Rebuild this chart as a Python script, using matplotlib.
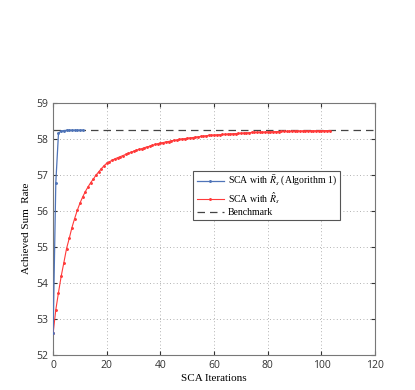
import numpy as np
import matplotlib
matplotlib.use('Agg')
import matplotlib.pyplot as plt

plt.rcParams['mathtext.fontset'] = 'stix'
plt.rcParams['font.family'] = ['Liberation Serif', 'DejaVu Serif']

# blue curve: SCA with R-bar (Algorithm 1)
iters_alg1 = list(range(0, 12))
rate_alg1 = [52.60, 56.78, 58.15, 58.21, 58.225, 58.23, 58.232, 58.233,
             58.234, 58.234, 58.235, 58.235]

# red curve: SCA with R-hat
iters_hat = list(range(0, 104))
rate_hat = [
    52.60, 53.25, 53.73, 54.18, 54.56, 54.95, 55.23, 55.53, 55.78, 56.01,
    56.21, 56.38, 56.53, 56.66, 56.78, 56.88, 56.99, 57.08, 57.17, 57.25,
    57.32, 57.36, 57.40, 57.44, 57.47, 57.50, 57.53, 57.56, 57.59, 57.62,
    57.65, 57.68, 57.70, 57.72, 57.75, 57.77, 57.79, 57.81, 57.84, 57.86,
    57.88, 57.89, 57.91, 57.92, 57.94, 57.95, 57.96, 57.98, 57.99, 58.00,
    58.01, 58.02, 58.03, 58.04, 58.05, 58.06, 58.07, 58.08, 58.09, 58.095,
    58.10, 58.105, 58.11, 58.115, 58.12, 58.125, 58.13, 58.135, 58.14, 58.145,
    58.15, 58.155, 58.16, 58.165, 58.17, 58.172, 58.175, 58.178, 58.18, 58.183,
    58.186, 58.189, 58.192, 58.195, 58.197, 58.199, 58.201, 58.203, 58.205, 58.207,
    58.209, 58.211, 58.213, 58.214, 58.215, 58.216, 58.217, 58.218, 58.219, 58.22,
    58.221, 58.222, 58.223, 58.224,
]

benchmark = 58.24

fig = plt.figure(figsize=(4.15, 3.9), dpi=100)
ax = fig.add_axes([0.128, 0.09, 0.776, 0.647])

ax.plot(iters_alg1, rate_alg1, color='#4f74b8', lw=0.9, marker='.', ms=2.2,
        label=r'SCA with $\bar{R}_s$ (Algorithm 1)', zorder=4)
ax.plot(iters_hat, rate_hat, color='#ff3a3a', lw=0.8, marker='.', ms=2.2,
        label=r'SCA with $\hat{R}_s$', zorder=3)
ax.axhline(benchmark, color='#444444', lw=0.9, ls=(0, (6, 4)), label='Benchmark', zorder=2)

ax.set_xlim(0, 120)
ax.set_ylim(52, 59)
ax.set_xticks(np.arange(0, 121, 20))
ax.set_yticks(np.arange(52, 60, 1))
ax.grid(True, ls=(0, (1, 3)), color='#999999', lw=0.6)
ax.tick_params(direction='in', top=True, right=True, length=3, labelsize=7.5,
               colors='#333333')
for lbl in ax.get_xticklabels() + ax.get_yticklabels():
    lbl.set_family(['Open Sans', 'DejaVu Sans'])
for s in ax.spines.values():
    s.set_color('#777777')

ax.set_xlabel('SCA Iterations', fontsize=8, labelpad=2)
ax.set_ylabel('Achieved Sum  Rate', fontsize=8, labelpad=4)

leg = ax.legend(loc='upper left', bbox_to_anchor=(0.435, 0.73), fontsize=7,
                fancybox=False, framealpha=1, edgecolor='#555555',
                handlelength=2.8, handletextpad=0.4, borderpad=0.35,
                labelspacing=0.2, borderaxespad=0)
leg.get_frame().set_linewidth(0.8)

fig.savefig('out.png', dpi=100)
